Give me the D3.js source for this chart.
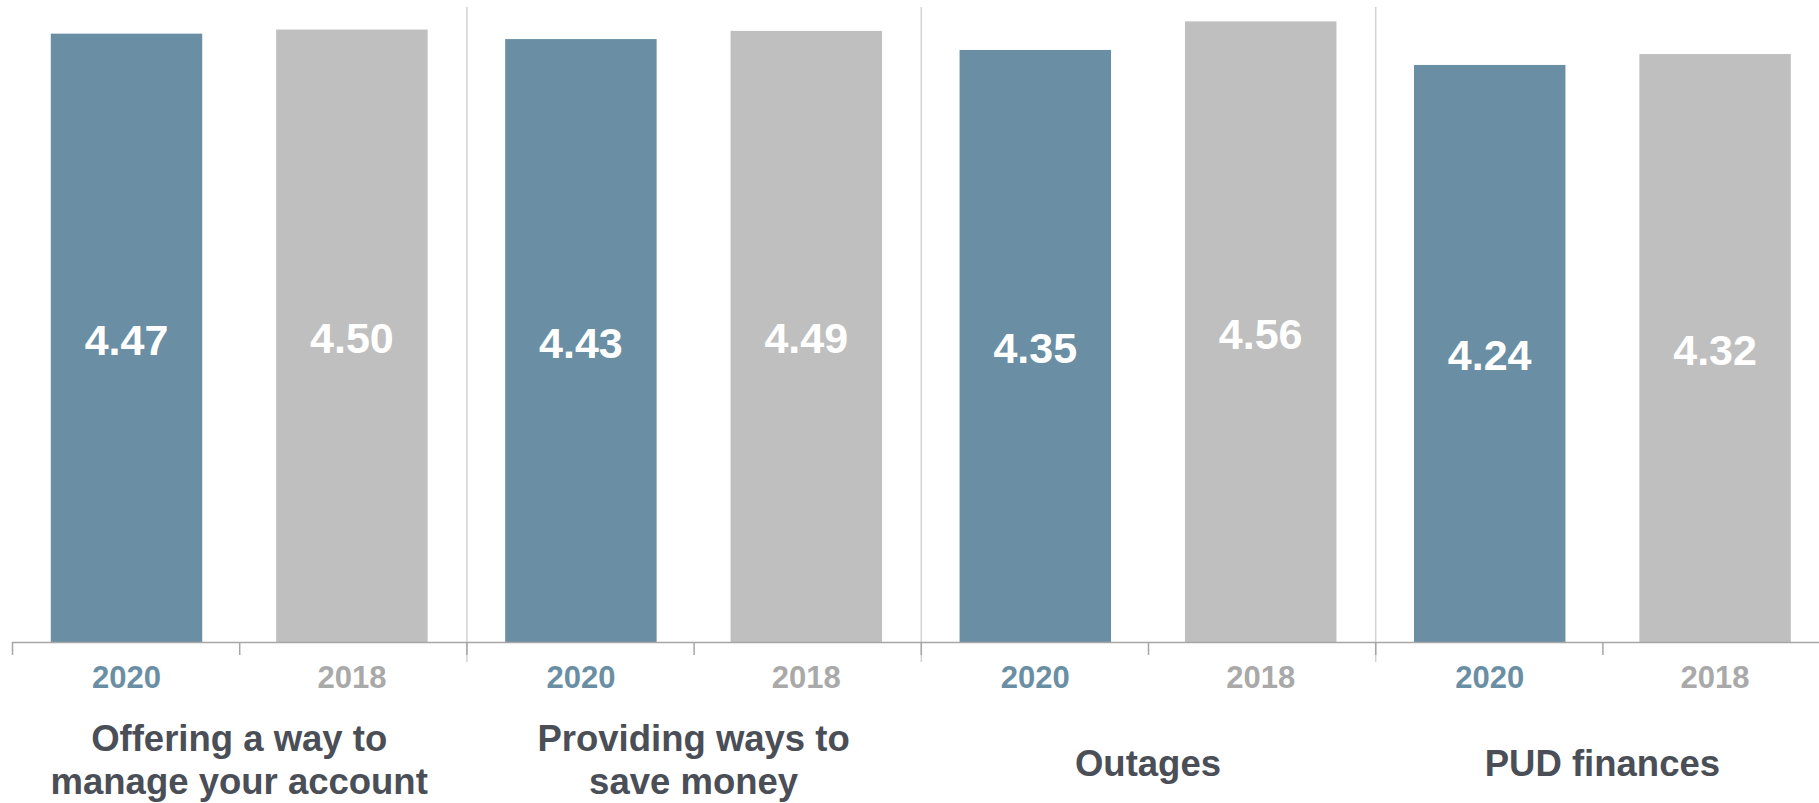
<!DOCTYPE html>
<html>
<head>
<meta charset="utf-8">
<script src="https://cdn.jsdelivr.net/npm/d3@7"></script>
<style>
  html, body { margin: 0; padding: 0; background: #ffffff; overflow: hidden; }
  svg { display: block; font-family: "Liberation Sans", Arial, sans-serif; }
</style>
</head>
<body>
<svg id="chart" width="1819" height="803"></svg>
<script>
// Satisfaction scores by topic, 2020 vs 2018
const categories = [
  ["Offering a way to", "manage your account"],
  ["Providing ways to", "save money"],
  ["Outages"],
  ["PUD finances"]
];
const years = ["2020", "2018"];
const values2020 = [4.47, 4.43, 4.35, 4.24];
const values2018 = [4.50, 4.49, 4.56, 4.32];

const colors = { "2020": "#6a8fa4", "2018": "#bfbfbf" };
const yearLabelColors = { "2020": "#6a8fa4", "2018": "#a9a9a9" };

const svg = d3.select("#chart");

const baseY = 642;
const left = 12;
const groupW = 454.4;

const x0 = d3.scaleBand()
  .domain(d3.range(categories.length))
  .range([left, left + groupW * categories.length])
  .padding(0);

const x1 = d3.scaleBand()
  .domain(years)
  .range([0, x0.bandwidth()])
  .paddingInner(0.328)
  .paddingOuter(0.172);

const y = d3.scaleLinear()
  .domain([0, 5])
  .range([baseY, baseY - 5 * 136.1]);

const rows = categories.map((c, i) => ({
  i,
  values: [
    { year: "2020", value: values2020[i] },
    { year: "2018", value: values2018[i] }
  ]
}));

// vertical separators between topics
svg.append("g")
  .selectAll("line")
  .data(d3.range(1, categories.length))
  .join("line")
  .attr("x1", d => x0(d) + 0.5)
  .attr("x2", d => x0(d) + 0.5)
  .attr("y1", 7)
  .attr("y2", 662)
  .attr("stroke", "#d3d3d3")
  .attr("stroke-width", 1.5);

// bars
const groups = svg.append("g")
  .selectAll("g")
  .data(rows)
  .join("g")
  .attr("transform", d => `translate(${x0(d.i)},0)`);

groups.selectAll("rect")
  .data(d => d.values)
  .join("rect")
  .attr("x", d => x1(d.year))
  .attr("width", x1.bandwidth())
  .attr("y", d => y(d.value))
  .attr("height", d => baseY - y(d.value))
  .attr("fill", d => colors[d.year]);

// value labels in the bars
groups.selectAll("text.value")
  .data(d => d.values)
  .join("text")
  .attr("class", "value")
  .attr("x", d => x1(d.year) + x1.bandwidth() / 2)
  .attr("y", d => (y(d.value) + baseY) / 2 + 2)
  .attr("text-anchor", "middle")
  .attr("dominant-baseline", "central")
  .attr("fill", "#ffffff")
  .attr("font-weight", "bold")
  .attr("font-size", 43)
  .text(d => d3.format(".2f")(d.value));

// baseline axis
const axis = svg.append("g");
axis.append("line")
  .attr("x1", left)
  .attr("x2", 1819)
  .attr("y1", baseY + 0.5)
  .attr("y2", baseY + 0.5)
  .attr("stroke", "#a6a6a6")
  .attr("stroke-width", 1.5);

const tickXs = [];
d3.range(categories.length).forEach(i => {
  tickXs.push(x0(i));
  tickXs.push(x0(i) + x0.bandwidth() / 2);
});
axis.selectAll("line.tick")
  .data(tickXs)
  .join("line")
  .attr("class", "tick")
  .attr("x1", d => d + 0.5)
  .attr("x2", d => d + 0.5)
  .attr("y1", baseY)
  .attr("y2", baseY + 13)
  .attr("stroke", "#a6a6a6")
  .attr("stroke-width", 1.5);

// year labels under each bar
groups.selectAll("text.year")
  .data(d => d.values)
  .join("text")
  .attr("class", "year")
  .attr("x", d => x1(d.year) + x1.bandwidth() / 2)
  .attr("y", 688)
  .attr("text-anchor", "middle")
  .attr("fill", d => yearLabelColors[d.year])
  .attr("font-weight", "bold")
  .attr("font-size", 31)
  .text(d => d.year);

// topic labels
const lineGap = 43;
svg.append("g")
  .selectAll("text")
  .data(categories)
  .join("text")
  .attr("text-anchor", "middle")
  .attr("fill", "#4a4e56")
  .attr("font-weight", "bold")
  .attr("font-size", 36.5)
  .each(function (lines, i) {
    const t = d3.select(this);
    const first = 776 - (lines.length - 1) * 25;
    lines.forEach((ln, k) => {
      t.append("tspan")
        .attr("x", x0(i) + x0.bandwidth() / 2)
        .attr("y", first + k * lineGap)
        .text(ln);
    });
  });
</script>
</body>
</html>
